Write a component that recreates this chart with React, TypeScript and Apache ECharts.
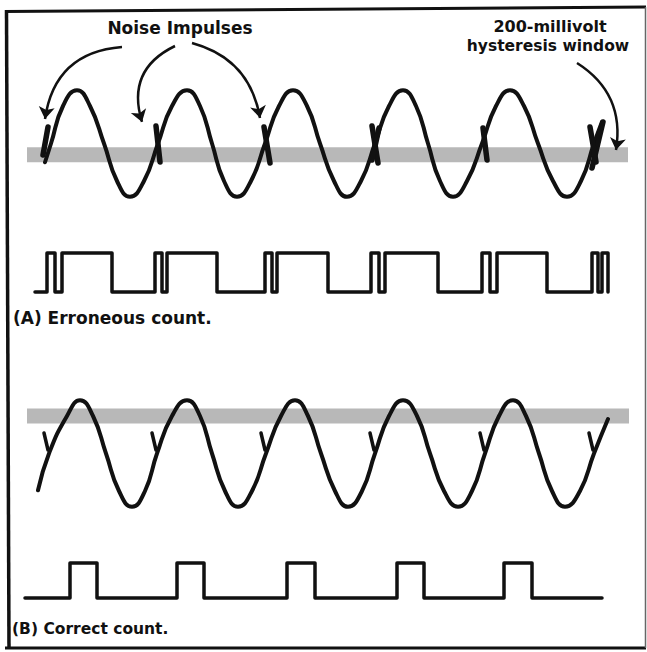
import React, { useEffect, useRef } from "react";
import * as echarts from "echarts";

// Time in ms (axis 0..620), signal in mV, logic level 0/1
const sineATime = [23,29,41,55,68,82,95,108,122,136,150,165,178,190,202,215,229,243,257,271,285,298,312,325,339,353,367,381,394,406,418,431,445,460,474,488,502,516,531,545,559,572,580];
const sineAmV = [-250,0,500,710,500,0,-500,-710,-500,0,500,710,500,0,-500,-710,-500,0,500,710,500,0,-500,-710,-500,0,500,710,500,0,-500,-710,-500,0,500,710,500,0,-500,-710,-500,0,290];
const sineBTime = [16,27,45,58,71,84,97,110,123,135,150,165,178,190,203,216,230,244,259,273,286,299,313,326,340,353,367,381,395,408,422,436,450,463,477,491,504,517,530,543,558,572,586];
const sineBmV = [-490,0,500,710,500,0,-500,-710,-500,0,500,710,500,0,-500,-710,-500,0,500,710,500,0,-500,-710,-500,0,500,710,500,0,-500,-710,-500,0,500,710,500,0,-500,-710,-500,0,460];

// noise impulse strokes: [t1, mV1, t2, mV2]
const noiseA = [[26,220,21,-153],[134,233,138,-247],[242,220,248,-260],[350,233,356,-260],[357,207,350,-220],[461,207,465,-220],[581,287,570,-327],[568,220,574,-247]];
const noiseB = [[22,273,26,47],[130,273,134,47],[239,273,243,47],[348,273,352,47],[458,273,462,47],[567,273,571,47]];

// hysteresis windows (mV) and their time span
const hysteresisA = [-250, -50];
const hysteresisB = [400, 600];
const bandSpan = [5, 606];

// comparator output edges (ms)
const squareAStart = 13;
const squareAEdges = [25,33,40,90,133,140,145,195,243,250,255,306,349,357,363,416,460,468,475,525,570,576,580,586];
const squareBStart = 3;
const squareBEdges = [48,75,155,182,265,293,375,402,482,510];
const squareBEnd = 580;

// annotation arrows [t, mV]
const arrowStarts = [[100,1287],[153,1300],[170,1340],[555,1073]];
const arrowEnds = [[23,327],[120,287],[238,340],[594,-87]];
const arrowBends = [-0.4,-0.43,0.32,0.33];

const labelNoise = "Noise Impulses";
const labelWindow1 = "200-millivolt";
const labelWindow2 = "hysteresis window";
const labelA = "(A) Erroneous count.";
const labelB = "(B) Correct count.";

function squarePoints(start: number, edges: number[], end?: number) {
  const pts: number[][] = [[start, 0]];
  let lvl = 0;
  for (const e of edges) {
    pts.push([e, lvl]);
    lvl = 1 - lvl;
    pts.push([e, lvl]);
  }
  if (end !== undefined && end > edges[edges.length - 1]) pts.push([end, lvl]);
  return pts;
}

const FONT = "DejaVu Sans";

export default function App() {
  const ref = useRef<HTMLDivElement>(null);
  useEffect(() => {
    document.body.style.margin = "0";
    const chart = echarts.init(ref.current!, null, { renderer: "svg" });
    const grids = [
      { left: 22, top: 68.5, width: 620, height: 150 },
      { left: 22, top: 233.5, width: 620, height: 78 },
      { left: 22, top: 378.5, width: 620, height: 150 },
      { left: 22, top: 545.5, width: 620, height: 70 },
    ];
    const yRanges = [[-1000, 1000], [-0.5, 1.5], [-1000, 1000], [-0.5, 1.5]];
    const black = "#111";
    const txt = (text: string, x: number, y: number, align: string, size: number) => ({
      type: "text",
      x,
      y,
      silent: true,
      style: {
        text,
        fill: black,
        font: `bold ${size}px "${FONT}"`,
        textAlign: align,
        textVerticalAlign: "middle",
        verticalAlign: "middle",
      },
    });
    const line = (x1: number, y1: number, x2: number, y2: number, w: number, c: string) => ({
      type: "line",
      silent: true,
      shape: { x1, y1, x2, y2 },
      style: { stroke: c, lineWidth: w },
    });
    chart.setOption({
      animation: false,
      backgroundColor: "#fff",
      grid: grids,
      xAxis: grids.map((_, i) => ({ type: "value", gridIndex: i, min: 0, max: 620, show: false })),
      yAxis: grids.map((_, i) => ({ type: "value", gridIndex: i, min: yRanges[i][0], max: yRanges[i][1], show: false })),
      series: [
        {
          type: "line",
          xAxisIndex: 0,
          yAxisIndex: 0,
          data: [],
          z: 1,
          silent: true,
          markArea: {
            silent: true,
            itemStyle: { color: "#b8b8b8" },
            data: [[{ coord: [bandSpan[0], hysteresisA[1]] }, { coord: [bandSpan[1], hysteresisA[0]] }]],
          },
        },
        {
          type: "line",
          xAxisIndex: 2,
          yAxisIndex: 2,
          data: [],
          z: 1,
          silent: true,
          markArea: {
            silent: true,
            itemStyle: { color: "#b8b8b8" },
            data: [[{ coord: [bandSpan[0], hysteresisB[1]] }, { coord: [bandSpan[1] + 1, hysteresisB[0]] }]],
          },
        },
        {
          type: "line",
          xAxisIndex: 0,
          yAxisIndex: 0,
          data: sineATime.map((t, i) => [t, sineAmV[i]]),
          smooth: true,
          showSymbol: false,
          clip: false,
          z: 5,
          lineStyle: { color: black, width: 4, cap: "round" },
        },
        {
          type: "line",
          xAxisIndex: 2,
          yAxisIndex: 2,
          data: sineBTime.map((t, i) => [t, sineBmV[i]]),
          smooth: true,
          showSymbol: false,
          clip: false,
          z: 5,
          lineStyle: { color: black, width: 4, cap: "round" },
        },
        {
          type: "lines",
          coordinateSystem: "cartesian2d",
          xAxisIndex: 0,
          yAxisIndex: 0,
          clip: false,
          z: 6,
          lineStyle: { color: black, width: 5.5, opacity: 1, cap: "round" },
          data: noiseA.map((s) => ({ coords: [[s[0], s[1]], [s[2], s[3]]] })),
        },
        {
          type: "lines",
          coordinateSystem: "cartesian2d",
          xAxisIndex: 2,
          yAxisIndex: 2,
          clip: false,
          z: 6,
          lineStyle: { color: black, width: 3.5, opacity: 1, cap: "round" },
          data: noiseB.map((s) => ({ coords: [[s[0], s[1]], [s[2], s[3]]] })),
        },
        {
          type: "line",
          xAxisIndex: 1,
          yAxisIndex: 1,
          data: squarePoints(squareAStart, squareAEdges),
          showSymbol: false,
          clip: false,
          z: 5,
          lineStyle: { color: black, width: 3.5, join: "round", cap: "round" },
        },
        {
          type: "line",
          xAxisIndex: 3,
          yAxisIndex: 3,
          data: squarePoints(squareBStart, squareBEdges, squareBEnd),
          showSymbol: false,
          clip: false,
          z: 5,
          lineStyle: { color: black, width: 3.5, join: "round", cap: "round" },
        },
        {
          type: "lines",
          coordinateSystem: "cartesian2d",
          xAxisIndex: 0,
          yAxisIndex: 0,
          clip: false,
          z: 7,
          symbol: ["none", "arrow"],
          symbolSize: 12,
          lineStyle: { color: black, width: 2.5, opacity: 1 },
          data: arrowStarts.map((s, i) => ({
            coords: [s, arrowEnds[i]],
            lineStyle: { curveness: arrowBends[i] },
          })),
        },
      ],
      graphic: [
        line(5, 11.5, 646, 7, 3, black),
        line(6.5, 10, 9, 649, 3.5, black),
        line(5, 648, 646, 648, 3, black),
        line(645.5, 7, 645.5, 648, 1.5, "#666"),
        txt(labelNoise, 180, 27.5, "center", 17),
        txt(labelWindow1, 550, 26, "center", 16),
        txt(labelWindow2, 548, 46, "center", 15.5),
        txt(labelA, 13, 318, "left", 17),
        txt(labelB, 12, 629, "left", 15.5),
      ],
    });
    return () => chart.dispose();
  }, []);
  return <div ref={ref} style={{ width: 647, height: 652 }} />;
}
